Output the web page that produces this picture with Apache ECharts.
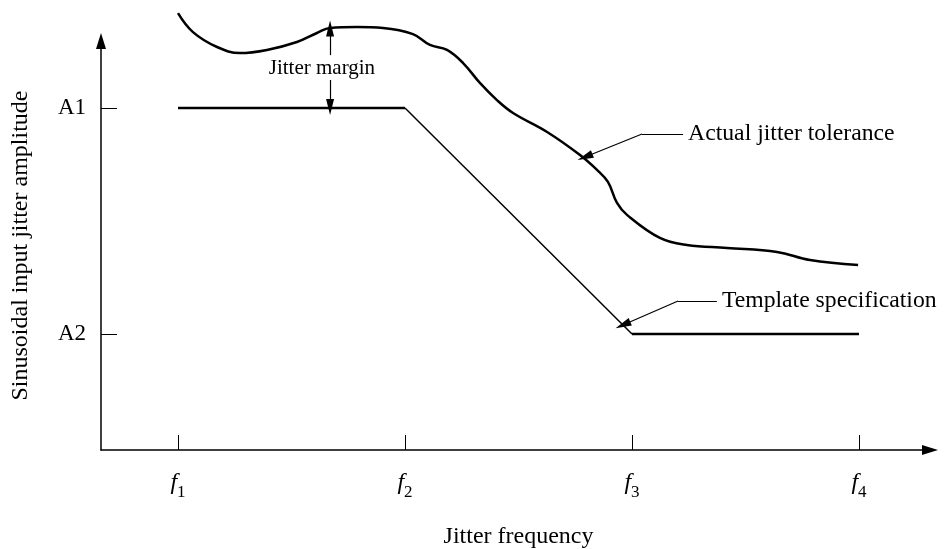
<!DOCTYPE html>
<html lang="EN">
<head>
    <meta charset="utf-8">
    <script src="https://cdn.jsdelivr.net/npm/echarts@6/dist/echarts.min.js"></script>
</head>
<body>
<style>
    body {
        margin: 0;
        background: #fff;
    }
    #main {
        width: 945px;
        height: 549px;
    }
</style>

<div id="main"></div>

<script>
    // frequency ticks f1..f4 sit at 1..4, amplitude A2 = 1, A1 = 2
    var freqTicks = [1, 2, 3, 4];
    var ampTicks = [1, 2];
    var ampNames = { 1: 'A2', 2: 'A1' };

    // template specification
    var templateHigh = [[1, 2], [2, 2]];
    var templateSlope = [[2, 2], [3, 1]];
    var templateLow = [[3, 1], [4, 1]];

    // actual jitter tolerance
    var toleranceX = [1.000, 1.066, 1.172, 1.273, 1.392, 1.524, 1.612, 1.670, 1.789, 1.903,
        2.035, 2.110, 2.185, 2.256, 2.330, 2.405, 2.476, 2.626, 2.771, 2.846,
        2.894, 2.934, 2.978, 3.123, 3.242, 3.419, 3.639, 3.784, 3.996];
    var toleranceY = [2.420, 2.336, 2.270, 2.243, 2.257, 2.292, 2.332, 2.354, 2.358, 2.354,
        2.327, 2.279, 2.257, 2.199, 2.111, 2.035, 1.978, 1.894, 1.792, 1.726,
        1.673, 1.580, 1.527, 1.425, 1.394, 1.381, 1.363, 1.327, 1.305];

    // annotation anchors (data units)
    var marginUp = [[1.670, 2.234], [1.670, 2.352]];
    var marginDown = [[1.670, 2.124], [1.670, 2.004]];
    var marginText = [1.634, 2.177];
    var actualLeader = [[3.225, 1.885], [3.044, 1.885], [2.793, 1.783]];
    var templateLeader = [[3.374, 1.146], [3.203, 1.146], [2.960, 1.040]];

    var serif = "'Liberation Serif', 'Times New Roman', serif";

    var tolerance = toleranceX.map(function (x, i) {
        return [x, toleranceY[i]];
    });

    function leaderText(text) {
        return {
            show: true,
            position: 'start',
            distance: 5,
            formatter: text,
            color: '#000',
            fontFamily: serif,
            fontSize: 23.7
        };
    }

    var chart = echarts.init(document.getElementById('main'));
    chart.setOption({
        animation: false,
        grid: {
            left: 101,
            right: 15,
            top: 41,
            bottom: 99,
            outerBoundsMode: 'none'
        },
        xAxis: {
            type: 'value',
            min: 0.6608,
            max: 4.3128,
            name: 'Jitter frequency',
            nameLocation: 'middle',
            nameGap: 75,
            nameTextStyle: { color: '#000', fontFamily: serif, fontSize: 24, padding: [0, 0, 0, 6] },
            axisLine: {
                lineStyle: { color: '#000', width: 1.5 },
                symbol: ['none', 'triangle'],
                symbolSize: [10, 16]
            },
            axisTick: {
                inside: true,
                length: 15,
                customValues: freqTicks,
                lineStyle: { color: '#000', width: 1 }
            },
            axisLabel: {
                customValues: freqTicks,
                margin: 21,
                formatter: function (v) {
                    return '{f|f}{s|' + v + '}';
                },
                rich: {
                    f: {
                        fontFamily: serif, fontStyle: 'italic', fontSize: 24, color: '#000',
                        verticalAlign: 'bottom', padding: [0, 0, 6, 0]
                    },
                    s: {
                        fontFamily: serif, fontSize: 17, color: '#000',
                        verticalAlign: 'bottom'
                    }
                }
            },
            splitLine: { show: false }
        },
        yAxis: {
            type: 'value',
            min: 0.4867,
            max: 2.2965,
            name: 'Sinusoidal input jitter amplitude',
            nameLocation: 'middle',
            nameGap: 68,
            nameTextStyle: { color: '#000', fontFamily: serif, fontSize: 24 },
            axisLine: {
                lineStyle: { color: '#000', width: 1.5 },
                symbol: ['none', 'triangle'],
                symbolSize: [10, 16]
            },
            axisTick: {
                inside: true,
                length: 16,
                customValues: ampTicks,
                lineStyle: { color: '#000', width: 1 }
            },
            axisLabel: {
                customValues: ampTicks,
                margin: 15,
                color: '#000',
                fontFamily: serif,
                fontSize: 23,
                formatter: function (v) {
                    return ampNames[v];
                }
            },
            splitLine: { show: false }
        },
        series: [
            {
                type: 'line',
                data: templateHigh,
                symbol: 'none',
                lineStyle: { color: '#000', width: 2.5 }
            },
            {
                type: 'line',
                data: templateSlope,
                symbol: 'none',
                lineStyle: { color: '#000', width: 1.5 }
            },
            {
                type: 'line',
                data: templateLow,
                symbol: 'none',
                lineStyle: { color: '#000', width: 2.5 },
                markPoint: {
                    silent: true,
                    symbol: 'circle',
                    symbolSize: 1,
                    itemStyle: { color: 'transparent' },
                    label: {
                        show: true,
                        position: 'inside',
                        color: '#000',
                        fontFamily: serif,
                        fontSize: 21,
                        formatter: 'Jitter margin'
                    },
                    data: [{ coord: marginText }]
                }
            },
            {
                type: 'line',
                data: tolerance,
                symbol: 'none',
                smooth: 0.4,
                clip: false,
                lineStyle: { color: '#000', width: 2.5 }
            },
            {
                // plain leader segments carrying the texts
                type: 'lines',
                coordinateSystem: 'cartesian2d',
                clip: false,
                silent: true,
                symbol: 'none',
                lineStyle: { color: '#000', width: 1, opacity: 1 },
                data: [
                    { coords: [templateLeader[0], templateLeader[1]], label: leaderText('Template specification') },
                    { coords: [actualLeader[0], actualLeader[1]], label: leaderText('Actual jitter tolerance') }
                ]
            },
            {
                // arrow-headed segments
                type: 'lines',
                coordinateSystem: 'cartesian2d',
                clip: false,
                silent: true,
                symbol: ['none', 'triangle'],
                symbolSize: [0, [8, 16]],
                itemStyle: { color: '#000' },
                lineStyle: { color: '#000', width: 1.2, opacity: 1 },
                data: [
                    { coords: [templateLeader[1], templateLeader[2]] },
                    { coords: [actualLeader[1], actualLeader[2]] },
                    { coords: marginUp },
                    { coords: marginDown }
                ]
            }
        ]
    });
</script>
</body>
</html>
